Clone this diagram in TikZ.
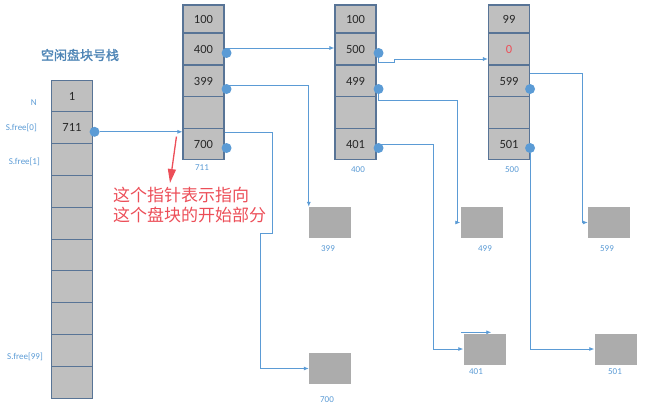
\documentclass[tikz,border=0pt]{standalone}
\usepackage{fontspec}
\setmainfont{Carlito}
\newfontfamily\cjk{Noto Sans CJK SC}
\newfontfamily\cjkbold{Noto Sans CJK SC}[FakeBold=1.5]
\usetikzlibrary{positioning}
\usetikzlibrary{calc}
\usetikzlibrary{arrows.meta}
\definecolor{linkblue}{RGB}{91,155,213}
\definecolor{cellline}{RGB}{88,116,150}
\definecolor{cellgray}{RGB}{191,191,191}
\definecolor{blkgray}{RGB}{172,172,172}
\definecolor{notered}{RGB}{236,78,88}
\definecolor{celltext}{RGB}{40,40,40}

\begin{document}
\begin{tikzpicture}[x = 1pt, y = -1pt,
	cell/.style = {draw = cellline, fill = cellgray, line width = 1.1pt, minimum width = 41pt, minimum height = 31.8pt, inner sep = 0pt, text = celltext, font = \fontsize{12.5}{14}\selectfont},
	topcell/.style = {cell, minimum height = 28pt},
	dot/.style = {circle, fill = linkblue, minimum size = 10pt, inner sep = 0pt},
	link/.style = {linkblue, line width = 0.8pt, -{Latex[length = 5pt, width = 4pt]}},
	blk/.style = {fill = blkgray, minimum width = 42pt, minimum height = 31pt, inner sep = 0pt},
	tag/.style = {text = linkblue, font = \fontsize{9}{10}\selectfont, inner sep = 1pt}]
	\useasboundingbox (0, 0) rectangle (656, 413);
	% free block stack
	\node (title) at (80, 55) [text = linkblue!85!black, font = \fontsize{13}{15}\selectfont] {\cjkbold 空闲盘块号栈};
	\foreach \i/\v in {1/1, 2/711, 3/{}, 4/{}, 5/{}, 6/{}, 7/{}, 8/{}, 9/{}, 10/{}}
		\node[cell] (s\i) at (72, {96 + 31.8 * (\i - 1)}) {\v};
	\node (n) at (38, 103) [tag, anchor = east] {N};
	\node (f0) at (38, 128) [tag, anchor = east] {S.free[0]};
	\node (f1) at (41, 162) [tag, anchor = east] {S.free[1]};
	\node (f99) at (44, 357) [tag, anchor = east] {S.free[99]};
	% disk blocks 711, 400, 500
	\node[topcell] (a1) at (203.5, 19) {100};
	\foreach \i/\v/\y in {2/400/49, 3/399/81, 4/{}/112.5, 5/700/144}
		\node[cell] (a\i) at (203.5, \y) {\v};
	\node[topcell] (b1) at (355.5, 19) {100};
	\foreach \i/\v/\y in {2/500/49, 3/499/81, 4/{}/112.5, 5/401/144}
		\node[cell] (b\i) at (355.5, \y) {\v};
	\node[topcell] (c1) at (509, 19) {99};
	\foreach \i/\v/\y in {2/\textcolor{notered}{0}/49, 3/599/81, 4/{}/112.5, 5/501/144}
		\node[cell] (c\i) at (509, \y) {\v};
	\node (t711) at (202, 168) [tag] {711};
	\node (t400) at (358, 170) [tag] {400};
	\node (t500) at (512, 170) [tag] {500};
	% single blocks
	\node[blk] (k399) at (330, 222.5) {};
	\node[blk] (k700) at (330, 368.5) {};
	\node[blk] (k499) at (481.5, 222.5) {};
	\node[blk] (k599) at (609, 222.5) {};
	\node[blk] (k401) at (484.5, 349) {};
	\node[blk] (k501) at (615.5, 349) {};
	\node (t399) at (328, 249) [tag] {399};
	\node (t700) at (327, 400) [tag] {700};
	\node (t499) at (485, 249) [tag] {499};
	\node (t599) at (607, 249) [tag] {599};
	\node (t401) at (476, 372) [tag] {401};
	\node (t501) at (615, 372) [tag] {501};
	% pointers
	\node[dot] (dl) at ($(s2.east) + (1.5, 4)$) {};
	\node[dot] (da2) at ($(a2.east) + (2, 4)$) {};
	\node[dot] (da3) at ($(a3.east) + (2, 8)$) {};
	\node[dot] (da5) at ($(a5.east) + (2, 4)$) {};
	\node[dot] (db2) at ($(b2.east) + (2, 4)$) {};
	\node[dot] (db3) at ($(b3.east) + (2, 8)$) {};
	\node[dot] (db5) at ($(b5.east) + (2, 4)$) {};
	\node[dot] (dc3) at ($(c3.east) + (0, 8)$) {};
	\node[dot] (dc5) at ($(c5.east) + (0, 4)$) {};
	\draw[link] (dl) -- (dl -| a5.west);
	\draw[link] ($(a2.east) + (0, -1)$) -- ($(b2.west) + (0, -1)$);
	\draw[link] ($(a3.east) + (0, 4)$) -| (k399.north west);
	\draw[link] ($(a5.north east) + (0, 5)$) -- ++(48, 0) -- ++(0, 101) -- ++(-12, 0) |- (k700.west);
	\draw[link] (db2) -- ++(0, 9) -- ++(16, 0) -- ++(0, -3) -- ($(c2.west) + (0, 10)$);
	\draw[link] (db3) |- ++(79, 11) |- (k499.west);
	\draw[link] (b5.east) -- ++(57, 0) |- (k401.west);
	\draw[link] ($(k401.north west) + (-2, -1)$) -- ++(30, 0);
	\draw[link] ($(c3.north east) + (0, 9)$) -- ++(52, 0) |- (k599.west);
	\draw[link] (dc5) |- (k501.west);
	% note
	\node (note) at (113, 205) [anchor = west, align = left, inner sep = 0pt, text = notered, font = \fontsize{17}{20}\selectfont\cjk] {这个指针表示指向\\这个盘块的开始部分};
	\coordinate (tip) at (170, 183);
	\draw[notered, line width = 1.3pt, -{Triangle[length = 14pt, width = 8pt]}] ($(a5.north west) + (-6, 9)$) -- (tip);
\end{tikzpicture}
\end{document}
